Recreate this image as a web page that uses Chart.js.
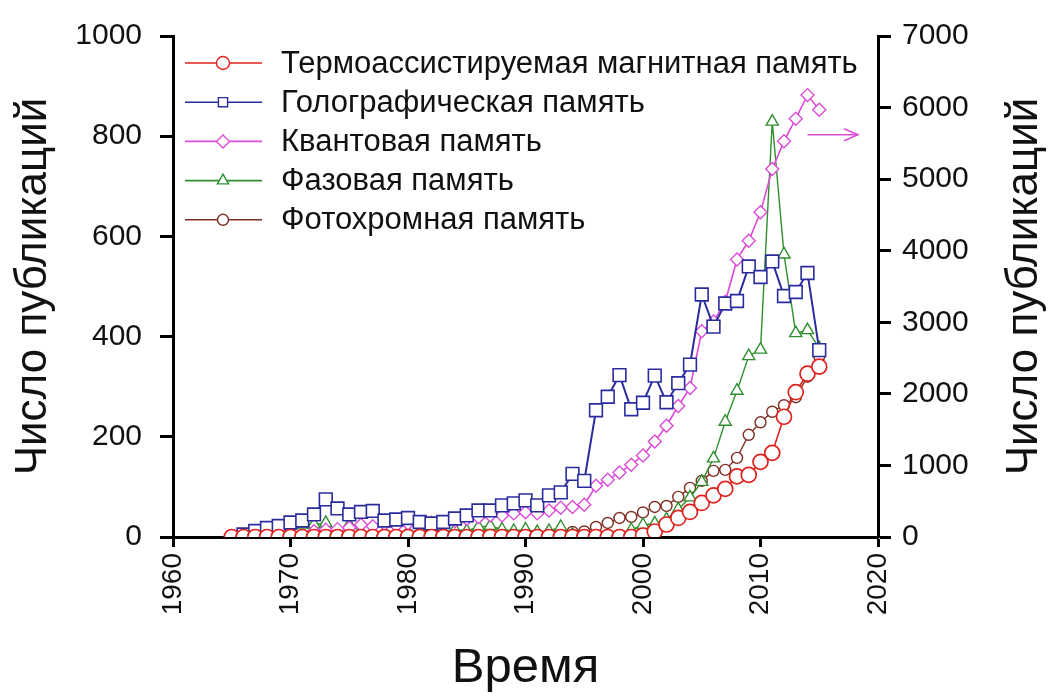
<!DOCTYPE html>
<html>
<head>
<meta charset="utf-8">
<script src="https://cdn.jsdelivr.net/npm/chart.js@4/dist/chart.umd.min.js"></script>
<style>
  html, body { margin: 0; padding: 0; background: #ffffff; }
  #wrap { width: 1052px; height: 698px; }
</style>
</head>
<body>
<div id="wrap"><canvas id="c" width="1052" height="698"></canvas></div>
<script>
const years = [1965,1966,1967,1968,1969,1970,1971,1972,1973,1974,1975,1976,1977,1978,1979,
  1980,1981,1982,1983,1984,1985,1986,1987,1988,1989,1990,1991,1992,1993,1994,
  1995,1996,1997,1998,1999,2000,2001,2002,2003,2004,2005,2006,2007,2008,2009,
  2010,2011,2012,2013,2014,2015];

const seriesLabels = [
  'Термоассистируемая магнитная память',
  'Голографическая память',
  'Квантовая память',
  'Фазовая память',
  'Фотохромная память'
];

// left axis
const thermoMagnetic = [0,0,0,0,0, 0,0,0,0,0, 0,0,0,0,0, 0,0,0,0,0, 0,0,0,0,0, 0,0,0,0,0,
  0,0,0,0,0, 3,11,25,38,50, 68,83,96,121,124, 150,168,240,289,326, 340];
const holographic = [null,5,12,18,22, 29,33,45,75,57, 45,50,52,33,35, 38,30,27,30,37,
  43,53,53,63,67, 73,63,83,89,126, 112,253,280,323,255, 268,322,269,307,344,
  484,420,466,471,540, 519,550,481,489,527, 373];
// right axis
const quantum = [null,null,null,null,null, null,null,80,100,110, 130,170,150,180,160,
  190,200,200,210,220, 250,275,300,300,330, 345,330,370,410,420,
  450,715,800,900,1010, 1140,1334,1555,1830,2083, 2874,3011,3286,3878,4139,
  4538,5143,5528,5844,6174, 5968];
// left axis
const phase = [null,null,null,null,null, 8,25,25,28,12, 25,10,8,10,8, 10,12,20,10,15,
  12,20,22,15,12, 15,10,12,20,5, 0,0,0,0,14, 24,27,35,55,79,
  110,157,230,292,361, 374,829,564,407,413, 377];
const photochromic = [2,2,2,2,2, 2,2,2,3,2, 3,2,2,3,2, 3,2,3,3,3, 3,3,4,3,4, 4,3,4,6,10,
  11,20,28,38,40, 49,60,62,80,98, 112,132,134,158,204, 229,250,263,279,320, 361];

const xTicks = [1960,1970,1980,1990,2000,2010,2020];
const yLeftTicks = [0,200,400,600,800,1000];
const yRightTicks = [0,1000,2000,3000,4000,5000,6000,7000];

const axisTitle = 'Число публикаций';
const xTitle = 'Время';
const arrowFrom = [2014, 5620];
const arrowTo = [2018.3, 5620];

function pts(vals) {
  const out = [];
  years.forEach((yr, i) => { if (vals[i] !== null && vals[i] !== undefined) out.push({x: yr, y: vals[i]}); });
  return out;
}

const FONT = "'Liberation Sans', Arial, sans-serif";

const datasets = [
  { label: seriesLabels[0], data: pts(thermoMagnetic), yAxisID: 'y',
    borderColor: '#e0221e', pointStyle: 'circle', pointRadius: 7.5, borderWidth: 1.6, pointBorderWidth: 1.7 },
  { label: seriesLabels[1], data: pts(holographic), yAxisID: 'y',
    borderColor: '#2a2c9e', pointStyle: 'rect', pointRadius: 9, borderWidth: 2, pointBorderWidth: 1.6 },
  { label: seriesLabels[2], data: pts(quantum), yAxisID: 'y1',
    borderColor: '#dc4ad8', pointStyle: 'rectRot', pointRadius: 6.5, borderWidth: 1.6, pointBorderWidth: 1.4 },
  { label: seriesLabels[3], data: pts(phase), yAxisID: 'y',
    borderColor: '#2f8f2f', pointStyle: 'triangle', pointRadius: 7, borderWidth: 1.4, pointBorderWidth: 1.4 },
  { label: seriesLabels[4], data: pts(photochromic), yAxisID: 'y',
    borderColor: '#7e2e22', pointStyle: 'circle', pointRadius: 5.5, borderWidth: 1.4, pointBorderWidth: 1.4 }
].map(d => Object.assign(d, {
  backgroundColor: '#ffffff', pointBackgroundColor: '#ffffff', pointBorderColor: d.borderColor,
  fill: false, tension: 0, pointHoverRadius: d.pointRadius
}));

const customLegend = {
  id: 'customLegend',
  afterDatasetsDraw(chart) {
    const ctx = chart.ctx;
    const ca = chart.chartArea;
    const x0 = ca.left + 12, x1 = ca.left + 89, xm = ca.left + 50, xt = ca.left + 108;
    const y0 = ca.top + 27, dy = 39.2;
    ctx.save();
    chart.data.datasets.forEach((ds, i) => {
      const y = y0 + i * dy;
      ctx.strokeStyle = ds.borderColor;
      ctx.lineWidth = 1.6;
      ctx.beginPath(); ctx.moveTo(x0, y); ctx.lineTo(x1, y); ctx.stroke();
      ctx.fillStyle = '#ffffff';
      ctx.strokeStyle = ds.borderColor;
      ctx.lineWidth = 1.4;
      Chart.helpers.drawPoint(ctx, { pointStyle: ds.pointStyle, rotation: 0,
        radius: Math.min(ds.pointRadius, 6.5), borderWidth: 1.4 }, xm, y);
      ctx.fillStyle = '#111111';
      ctx.font = '31px ' + FONT;
      ctx.textBaseline = 'middle';
      ctx.textAlign = 'left';
      ctx.fillText(ds.label, xt, y + 1);
    });
    ctx.restore();
  }
};

const extras = {
  id: 'extras',
  afterDraw(chart) {
    const ctx = chart.ctx;
    const xs = chart.scales.x, y1 = chart.scales.y1, ca = chart.chartArea;
    ctx.save();
    // pink arrow to the right axis
    const ax0 = xs.getPixelForValue(arrowFrom[0]), ay = y1.getPixelForValue(arrowFrom[1]);
    const ax1 = xs.getPixelForValue(arrowTo[0]);
    ctx.strokeStyle = '#dc4ad8';
    ctx.lineWidth = 1.5;
    ctx.beginPath(); ctx.moveTo(ax0, ay); ctx.lineTo(ax1, ay); ctx.stroke();
    ctx.beginPath();
    ctx.moveTo(ax1 - 14, ay - 6); ctx.lineTo(ax1, ay); ctx.lineTo(ax1 - 14, ay + 6);
    ctx.stroke();
    // right axis title (reads bottom to top)
    ctx.fillStyle = '#111111';
    ctx.font = '44px ' + FONT;
    ctx.textAlign = 'center';
    ctx.textBaseline = 'middle';
    ctx.translate(1025, (ca.top + ca.bottom) / 2);
    ctx.rotate(-Math.PI / 2);
    ctx.fillText(axisTitle, 0, 0);
    ctx.restore();
  }
};

const tickFont = { family: FONT, size: 30 };

new Chart(document.getElementById('c'), {
  type: 'line',
  data: { datasets },
  options: {
    responsive: false,
    animation: false,
    devicePixelRatio: 1,
    layout: { padding: { top: 28, left: 0, right: 0, bottom: 0 } },
    plugins: { legend: { display: false }, tooltip: { enabled: false } },
    scales: {
      x: {
        type: 'linear', position: 'bottom', min: 1960, max: 2020,
        afterBuildTicks: s => { s.ticks = xTicks.map(v => ({ value: v })); },
        afterFit: s => { s.height = 161; },
        ticks: { font: { family: FONT, size: 28 }, color: '#111111', minRotation: 90, maxRotation: 90, padding: 6,
          callback: v => String(v) },
        grid: { display: true, drawOnChartArea: false, drawTicks: true, tickLength: 10, tickWidth: 3, tickColor: '#000000' },
        border: { display: true, color: '#000000', width: 3 },
        title: { display: true, text: xTitle, font: { family: FONT, size: 49 }, color: '#111111', padding: { top: 0, bottom: 0 } }
      },
      y: {
        type: 'linear', position: 'left', min: 0, max: 1000,
        afterBuildTicks: s => { s.ticks = yLeftTicks.map(v => ({ value: v })); },
        afterFit: s => { s.width = 173; },
        ticks: { font: tickFont, color: '#111111', padding: 18, callback: v => String(v) },
        grid: { display: true, drawOnChartArea: false, drawTicks: true, tickLength: 13, tickWidth: 3, tickColor: '#000000' },
        border: { display: true, color: '#000000', width: 3 },
        title: { display: true, text: axisTitle, font: { family: FONT, size: 44 }, color: '#111111', padding: { top: 7, bottom: 0 } }
      },
      y1: {
        type: 'linear', position: 'right', min: 0, max: 7000,
        afterBuildTicks: s => { s.ticks = yRightTicks.map(v => ({ value: v })); },
        afterFit: s => { s.width = 174; },
        ticks: { font: tickFont, color: '#111111', padding: 11, callback: v => String(v) },
        grid: { display: true, drawOnChartArea: false, drawTicks: true, tickLength: 13, tickWidth: 3, tickColor: '#000000' },
        border: { display: true, color: '#000000', width: 3 }
      }
    }
  },
  plugins: [customLegend, extras]
});
</script>
</body>
</html>
